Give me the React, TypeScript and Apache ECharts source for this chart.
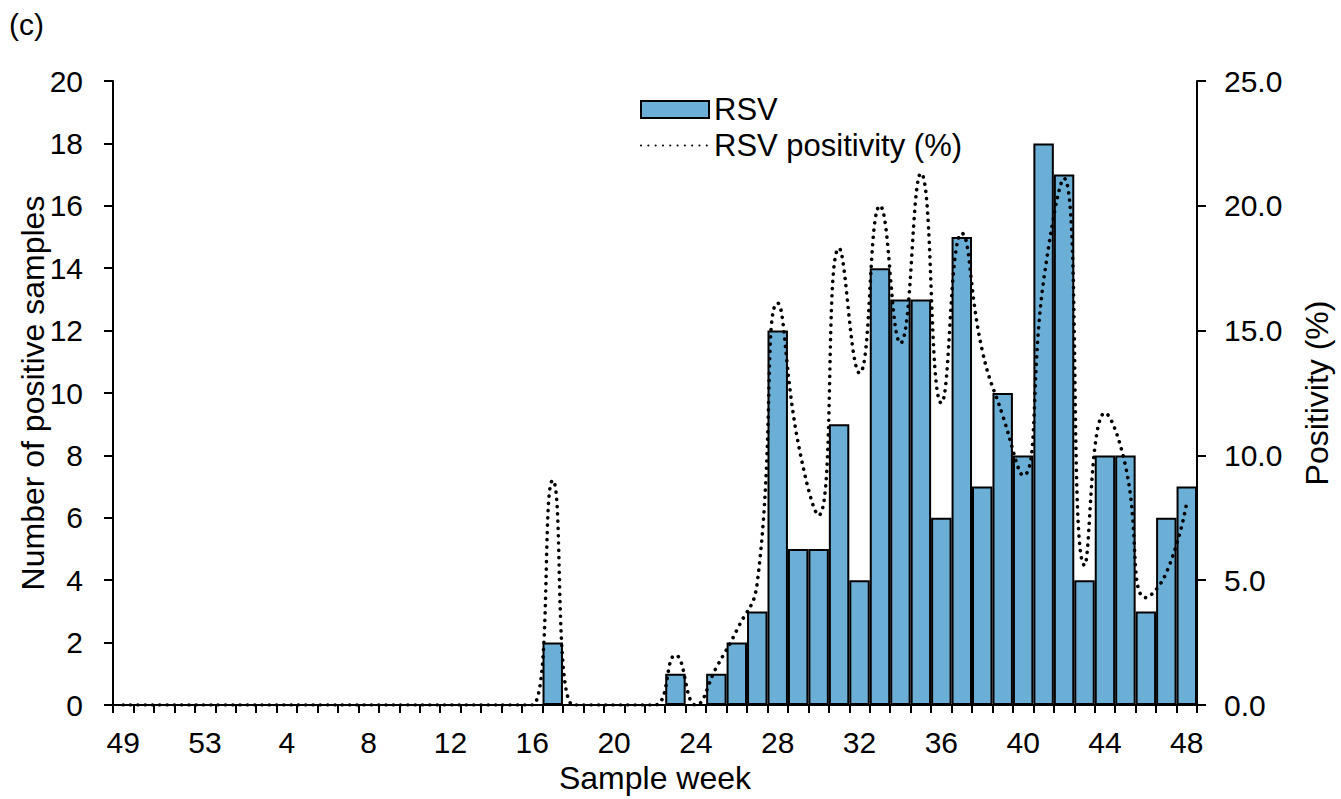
import React, { useEffect, useRef } from "react";
import * as echarts from "echarts";

const weeks: string[] = [
  "49", "50", "51", "52", "53",
  "1", "2", "3", "4", "5", "6", "7", "8", "9", "10", "11", "12",
  "13", "14", "15", "16", "17", "18", "19", "20", "21", "22", "23", "24",
  "25", "26", "27", "28", "29", "30", "31", "32", "33", "34", "35", "36",
  "37", "38", "39", "40", "41", "42", "43", "44", "45", "46", "47", "48",
];

// Number of RSV-positive samples per week
const rsvCounts: number[] = [
  0, 0, 0, 0, 0,
  0, 0, 0, 0, 0, 0, 0, 0, 0, 0, 0, 0,
  0, 0, 0, 0, 2, 0, 0, 0, 0, 0, 1, 0,
  1, 2, 3, 12, 5, 5, 9, 4, 14, 13, 13, 6,
  15, 7, 10, 8, 18, 17, 4, 8, 8, 3, 6, 7,
];

// RSV positivity (%) per week
const rsvPositivity: number[] = [
  0, 0, 0, 0, 0,
  0, 0, 0, 0, 0, 0, 0, 0, 0, 0, 0, 0,
  0, 0, 0, 0, 9.0, 0, 0, 0, 0, 0, 2.0, 0,
  1.5, 3.0, 4.9, 16.1, 10.5, 7.6, 18.3, 13.3, 20.0, 14.5, 21.3, 12.1,
  18.9, 14.2, 11.6, 9.2, 17.0, 21.1, 5.6, 11.7, 9.6, 4.3, 5.3, 8.1,
];

const FONT = "'Liberation Sans', Arial, sans-serif";
const TICK_FS = 30;
const TITLE_FS = 32;

export default function App() {
  const ref = useRef<HTMLDivElement>(null);

  useEffect(() => {
    if (!ref.current) return;
    const chart = echarts.init(ref.current, undefined, { renderer: "svg" });
    const axisLine = { show: true, lineStyle: { color: "#000", width: 2 } };
    const axisTick = { show: true, inside: false, length: 9, lineStyle: { color: "#000", width: 2 } };
    chart.setOption({
      animation: false,
      backgroundColor: "#fff",
      textStyle: { fontFamily: FONT },
      title: {
        text: "(c)",
        left: 4,
        top: 4,
        textStyle: { fontFamily: FONT, fontSize: TICK_FS, fontWeight: "normal", color: "#000" },
      },
      legend: {
        orient: "vertical",
        left: 635,
        top: 89,
        itemWidth: 68,
        itemHeight: 17,
        itemGap: 5,
        textStyle: { fontFamily: FONT, fontSize: 31, color: "#000" },
        data: [
          { name: "RSV", icon: "rect" },
          { name: "RSV positivity (%)", itemStyle: { opacity: 0 } },
        ],
      },
      grid: { left: 113, right: 136, top: 81, bottom: 94 },
      xAxis: {
        type: "category",
        data: weeks,
        boundaryGap: true,
        name: "Sample week",
        nameLocation: "middle",
        nameGap: 57,
        nameTextStyle: { fontFamily: FONT, fontSize: TITLE_FS, color: "#000" },
        axisLine,
        axisTick: { ...axisTick, length: 8, interval: 0 },
        axisLabel: { interval: 3, margin: 22, fontFamily: FONT, fontSize: TICK_FS, color: "#000" },
        splitLine: { show: false },
      },
      yAxis: [
        {
          type: "value",
          min: 0,
          max: 20,
          interval: 2,
          name: "Number of positive samples",
          nameLocation: "middle",
          nameRotate: 90,
          nameGap: 64,
          nameMoveOverlap: false,
          nameTextStyle: { fontFamily: FONT, fontSize: TITLE_FS, color: "#000" },
          axisLine,
          axisTick,
          axisLabel: { margin: 30, fontFamily: FONT, fontSize: TICK_FS, color: "#000" },
          splitLine: { show: false },
        },
        {
          type: "value",
          min: 0,
          max: 25,
          interval: 5,
          position: "right",
          name: "Positivity (%)",
          nameLocation: "middle",
          nameRotate: 90,
          nameGap: 104,
          nameTextStyle: { fontFamily: FONT, fontSize: TITLE_FS, color: "#000" },
          axisLine,
          axisTick,
          axisLabel: {
            margin: 27,
            fontFamily: FONT,
            fontSize: TICK_FS,
            color: "#000",
            formatter: (v: number) => v.toFixed(1),
          },
          splitLine: { show: false },
        },
      ],
      series: [
        {
          name: "RSV",
          type: "bar",
          data: rsvCounts,
          barWidth: "100%",
          yAxisIndex: 0,
          itemStyle: { color: "#6baed6", borderColor: "#000", borderWidth: 2 },
          z: 2,
        },
        {
          name: "RSV positivity (%)",
          type: "line",
          data: rsvPositivity,
          yAxisIndex: 1,
          smooth: 0.5,
          symbol: "none",
          lineStyle: { color: "#000", width: 3.6, type: [0.1, 7.2], cap: "round" },
          itemStyle: { color: "#000" },
          z: 5,
        },
      ],
    });
    return () => chart.dispose();
  }, []);

  return (
    <div
      ref={ref}
      style={{ position: "fixed", left: 0, top: 0, width: 1341, height: 799, background: "#fff" }}
    />
  );
}
